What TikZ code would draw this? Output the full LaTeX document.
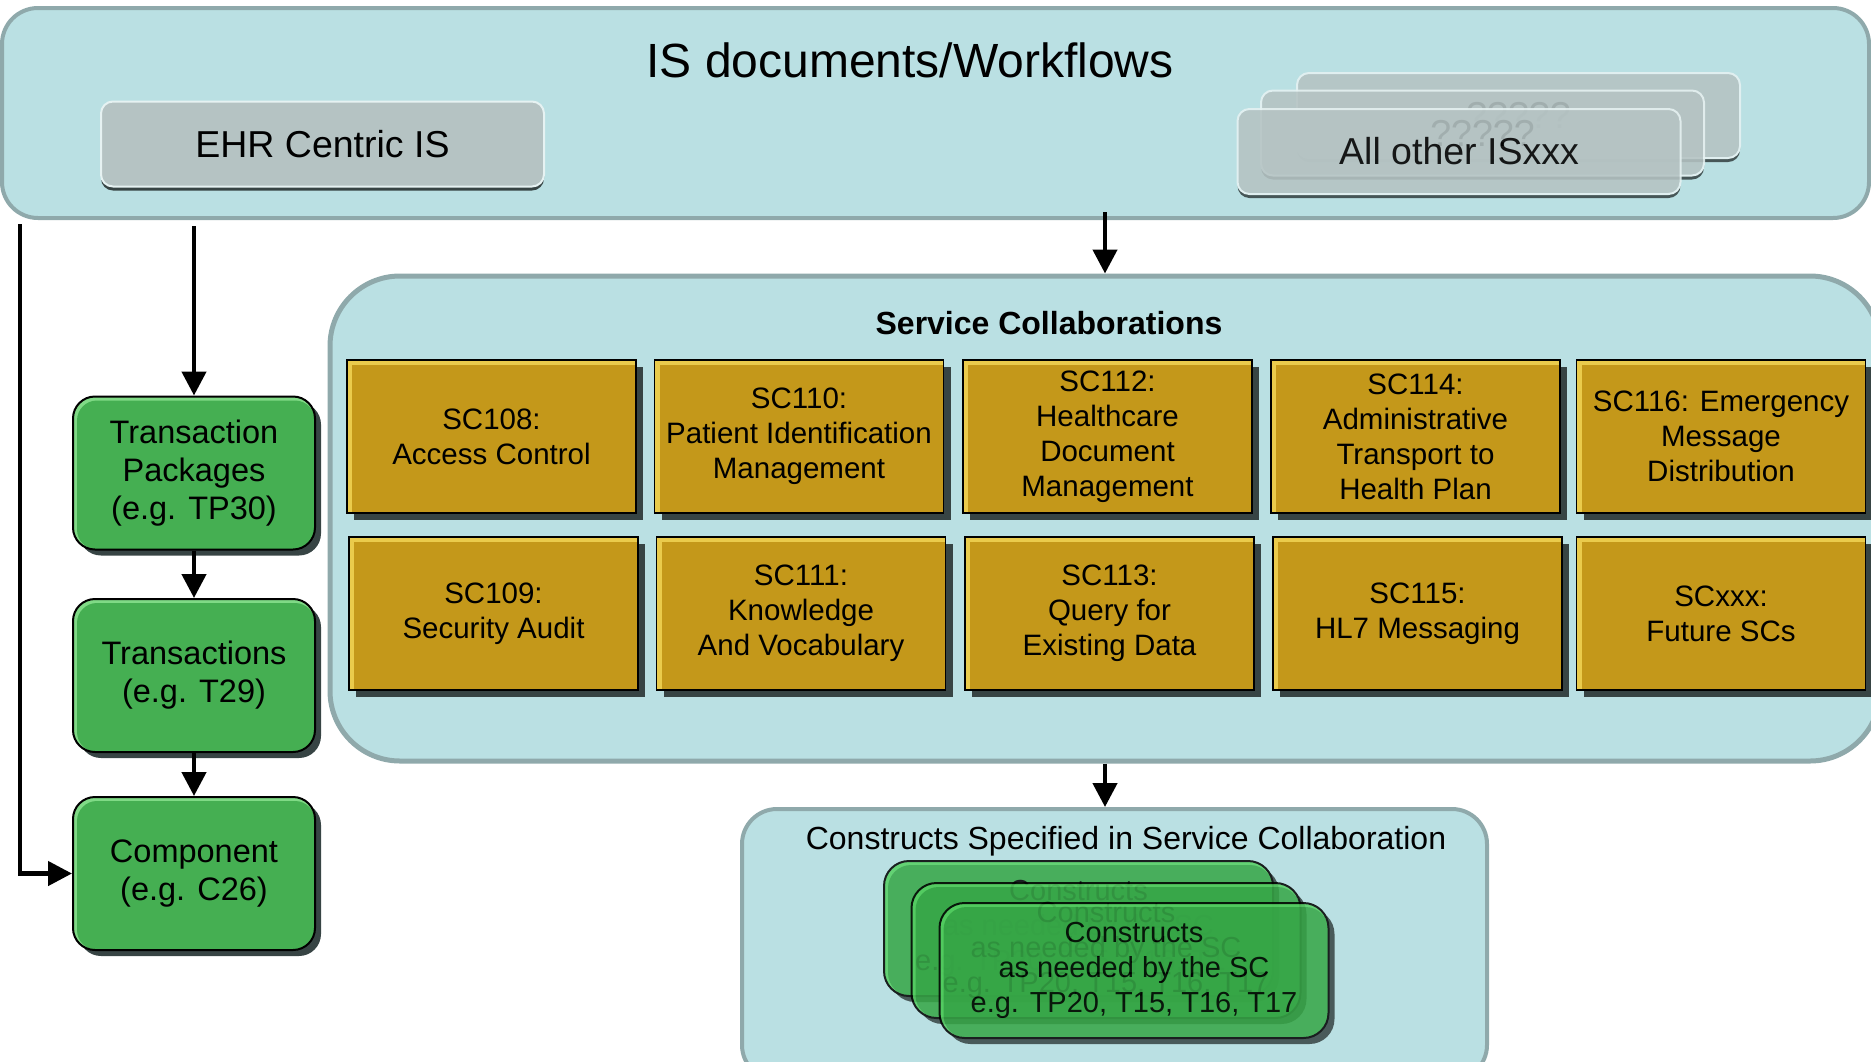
\documentclass[tikz,border=0pt]{standalone}
\usepackage{fontspec}
\setmainfont{Liberation Sans}
\usetikzlibrary{arrows.meta,shadows}

\definecolor{paleblue}{HTML}{BAE0E3}
\definecolor{paleedge}{HTML}{8FA9AB}
\definecolor{scgold}{HTML}{C4981A}
\definecolor{scgoldlight}{HTML}{EACB4C}
\definecolor{pkggreen}{HTML}{45AF52}
\definecolor{pkggreenlight}{HTML}{80DA86}
\definecolor{congreen}{HTML}{36A646}
\definecolor{congreenlight}{HTML}{55D062}
\definecolor{isgray}{HTML}{B5C3C3}
\definecolor{isgraylight}{HTML}{E6F2F2}
\definecolor{shadowgray}{HTML}{374444}

\tikzset{
  group/.style={draw=paleedge, line width=4pt, fill=paleblue},
  flow/.style={line width=4.5pt, -{Triangle[width=24pt,length=24pt]}},
  isbox/.style={draw=isgraylight, line width=2pt, fill=isgray,
    rounded corners=12pt, minimum width=443pt, minimum height=85pt,
    font=\fontsize{37.5}{42}\selectfont,
    drop shadow={shadow xshift=0pt, shadow yshift=-4pt, fill=shadowgray, opacity=1}},
  scbox/.style={draw=black, line width=1.5pt, fill=scgoldlight,
    minimum width=289pt, minimum height=153pt, align=center,
    font=\fontsize{29.5}{35}\selectfont,
    drop shadow={shadow xshift=7pt, shadow yshift=-7pt, fill=shadowgray, opacity=1},
    path picture={\fill[scgold] ([shift={(5pt,-5pt)}]path picture bounding box.north west)
      rectangle (path picture bounding box.south east);}},
  pkgbox/.style={draw=black, line width=2pt, fill=pkggreenlight, rounded corners=22pt,
    minimum width=242pt, minimum height=153pt, align=center,
    font=\fontsize{32.5}{38}\selectfont,
    drop shadow={shadow xshift=6pt, shadow yshift=-6pt, fill=shadowgray, opacity=1},
    path picture={\fill[pkggreen, rounded corners=20pt] ([shift={(4pt,-4pt)}]path picture bounding box.north west)
      rectangle (path picture bounding box.south east);}},
  conbox/.style={draw=black, line width=2pt, fill=congreenlight, rounded corners=25pt,
    minimum width=389pt, minimum height=135pt, align=center,
    font=\fontsize{29}{35}\selectfont,
    drop shadow={shadow xshift=6pt, shadow yshift=-6pt, fill=shadowgray, opacity=1},
    path picture={\fill[congreen, rounded corners=23pt] ([shift={(4pt,-4pt)}]path picture bounding box.north west)
      rectangle (path picture bounding box.south east);}},
  seethrough/.style={transparency group, opacity=#1},
  seethrough/.default=.88
}

\begin{document}
\begin{tikzpicture}[x=1pt,y=-1pt]
\useasboundingbox (0,0) rectangle (1871,1061);

% IS documents / workflows
\node[group, rounded corners=36pt, minimum width=1867pt, minimum height=210pt] (isdocs) at (935.5,113) {};
\node[font=\fontsize{48}{56}\selectfont] (istitle) at (910,60) {IS documents/Workflows};
\node[isbox] (ehr) at (322.5,144) {EHR Centric IS};
\begin{scope}[seethrough]
  \node[isbox] (other3) at (1518.5,115.5) {?????};
\end{scope}
\begin{scope}[seethrough]
  \node[isbox] (other2) at (1482.5,133) {?????};
\end{scope}
\begin{scope}[seethrough]
  \node[isbox] (other1) at (1459,151.5) {All other ISxxx};
\end{scope}

% service collaborations
\node[group, line width=5pt, rounded corners=70pt, minimum width=1550pt, minimum height=485pt] (sccoll) at (1105,518.5) {};
\node[font=\bfseries\fontsize{32}{36}\selectfont] (sctitle) at (1049,323) {Service Collaborations};

\node[scbox] (sc108) at (491.5,436.5) {SC108:\\Access Control};
\node[scbox] (sc110) at (799,436.5) {SC110:\\Patient Identification\\Management};
\node[scbox] (sc112) at (1107.5,436.5) {SC112:\\Healthcare\\Document\\Management};
\node[scbox] (sc114) at (1415.5,436.5) {SC114:\\Administrative\\Transport to\\Health Plan};
\node[scbox] (sc116) at (1721,436.5) {SC116: Emergency\\Message\\Distribution};

\node[scbox] (sc109) at (493.5,613.5) {SC109:\\Security Audit};
\node[scbox] (sc111) at (801,613.5) {SC111:\\Knowledge\\And Vocabulary};
\node[scbox] (sc113) at (1109.5,613.5) {SC113:\\Query for\\Existing Data};
\node[scbox] (sc115) at (1417.5,613.5) {SC115:\\HL7 Messaging};
\node[scbox] (scxxx) at (1721,613.5) {SCxxx:\\Future SCs};

% constructs
\node[group, rounded corners=35pt, minimum width=745pt, minimum height=271pt] (cons) at (1114.5,944.5) {};
\node[font=\fontsize{32}{36}\selectfont] (constitle) at (1126,841) {Constructs Specified in Service Collaboration};
\begin{scope}[seethrough=.86]
  \node[conbox] (con3) at (1078.5,928.5) {Constructs\\as needed by the SC\\e.g. TP20, T15, T16, T17};
\end{scope}
\begin{scope}[seethrough=.86]
  \node[conbox] (con2) at (1106,950.5) {Constructs\\as needed by the SC\\e.g. TP20, T15, T16, T17};
\end{scope}
\begin{scope}[seethrough=.86]
  \node[conbox] (con1) at (1134,970.5) {Constructs\\as needed by the SC\\e.g. TP20, T15, T16, T17};
\end{scope}

% transaction packages etc.
\node[pkgbox] (tp) at (194,473) {Transaction\\Packages\\(e.g. TP30)};
\node[pkgbox] (trans) at (194,675.5) {Transactions\\(e.g. T29)};
\node[pkgbox] (comp) at (194,873.5) {Component\\(e.g. C26)};

\coordinate (rail) at (20,224);
\draw[flow] ([yshift=-6pt]isdocs.south -| tp.north) -- (tp.north);
\draw[flow] (tp) -- (trans);
\draw[flow] (trans) -- (comp);
\draw[flow] (rail) |- (comp.west);
\draw[flow] ([yshift=8pt]isdocs.south -| sccoll.north) -- (sccoll.north);
\draw[flow] (sccoll.south) -- (sccoll.south |- cons.north);
\end{tikzpicture}
\end{document}
